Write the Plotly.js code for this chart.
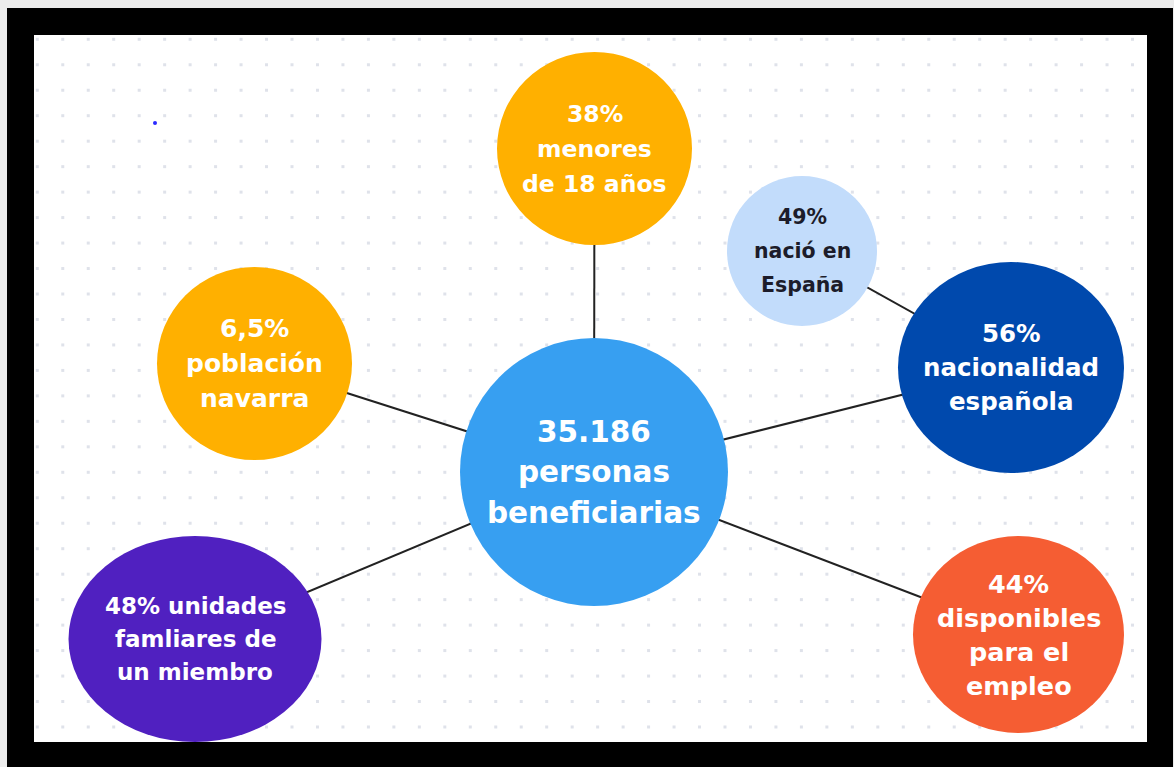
<!DOCTYPE html>
<html>
<head>
<meta charset="utf-8">
<script src="https://cdn.plot.ly/plotly-3.0.1.min.js"></script>
<style>
html,body{margin:0;padding:0;background:#fff;}
#chart{width:1174px;height:767px;}
</style>
</head>
<body>
<div id="chart"></div>
<script>
// ---- data ----
const nodeLabels = [
  ["35.186", "personas", "beneficiarias"],
  ["38%", "menores", "de 18 años"],
  ["6,5%", "población", "navarra"],
  ["49%", "nació en", "España"],
  ["56%", "nacionalidad", "española"],
  ["48% unidades", "famliares de", "un miembro"],
  ["44%", "disponibles", "para el", "empleo"]
];
// links: [from, to] by node index
const links = [[0,1],[0,2],[0,4],[3,4],[0,5],[0,6]];

// ---- layout of the diagram (pixel space) ----
const nodeX  = [594, 594.5, 254.5, 802, 1011, 195, 1018.5];
const nodeY  = [472, 148.5, 363.5, 251, 367.5, 639, 634.5];
const nodeRX = [134, 97.5, 97.5, 75, 113, 126.5, 105.5];
const nodeRY = [134, 96.5, 96.5, 75, 105.5, 103, 98.5];
const nodeColors = ["#379ff1", "#ffb000", "#ffb000", "#c2dcfb", "#0049ad", "#5020c0", "#f55d33"];
const textColors = ["#ffffff", "#ffffff", "#ffffff", "#1c1c2a", "#ffffff", "#ffffff", "#ffffff"];
const fontSizes  = [29.5, 23.5, 25, 20.5, 24.5, 23, 25.5];
const lineHeights = [40.5, 35, 35, 34, 34, 33, 34];

const W = 1174, H = 767;
const FONT = "'DejaVu Sans', Inter, sans-serif";

// background dot grid (decoration)
const gx = [], gy = [];
for (let r = 0; r < 28; r++) {
  for (let c = 0; c < 44; c++) {
    gx.push(37.3 + c * 25.47);
    gy.push(39.3 + r * 25.47);
  }
}
const strayDot = {x: [155], y: [123]};

const shapes = [];
// frame
shapes.push({type:'rect', xref:'x', yref:'y', x0:7, x1:1173, y0:8, y1:767, fillcolor:'#000', line:{width:0}, layer:'below'});
shapes.push({type:'rect', xref:'x', yref:'y', x0:34, x1:1147, y0:35, y1:742, fillcolor:'#fff', line:{width:0}, layer:'below'});
// connecting lines
links.forEach(([a,b]) => {
  shapes.push({type:'line', xref:'x', yref:'y', x0:nodeX[a], y0:nodeY[a], x1:nodeX[b], y1:nodeY[b],
    line:{color:'#222', width:2}, layer:'above'});
});
// circles
nodeX.forEach((cx, i) => {
  shapes.push({type:'circle', xref:'x', yref:'y',
    x0:cx - nodeRX[i], x1:cx + nodeRX[i], y0:nodeY[i] - nodeRY[i], y1:nodeY[i] + nodeRY[i],
    fillcolor:nodeColors[i], line:{width:0}, layer:'above'});
});

// labels
const annotations = [];
nodeLabels.forEach((lines, i) => {
  const n = lines.length;
  lines.forEach((t, k) => {
    annotations.push({
      x: nodeX[i], y: nodeY[i] + (k - (n - 1) / 2) * lineHeights[i],
      xref:'x', yref:'y', text:t, showarrow:false,
      xanchor:'center', yanchor:'middle',
      font:{family:FONT, size:fontSizes[i], color:textColors[i], weight:700}
    });
  });
});

const traces = [
  {type:'scatter', mode:'markers', x:gx, y:gy, hoverinfo:'skip',
   marker:{symbol:'square', size:3, color:'#dfe2ea', line:{width:0}}},
  {type:'scatter', mode:'markers', x:strayDot.x, y:strayDot.y, hoverinfo:'skip',
   marker:{symbol:'circle', size:4, color:'#2b2bff', line:{width:0}}}
];

const layout = {
  width: W, height: H,
  margin:{l:0, r:0, t:0, b:0},
  paper_bgcolor:'#ececec', plot_bgcolor:'rgba(0,0,0,0)',
  showlegend:false,
  xaxis:{range:[0, W], visible:false, fixedrange:true},
  yaxis:{range:[H, 0], visible:false, fixedrange:true},
  shapes, annotations
};

Plotly.newPlot('chart', traces, layout, {displayModeBar:false, staticPlot:true});
</script>
</body>
</html>
